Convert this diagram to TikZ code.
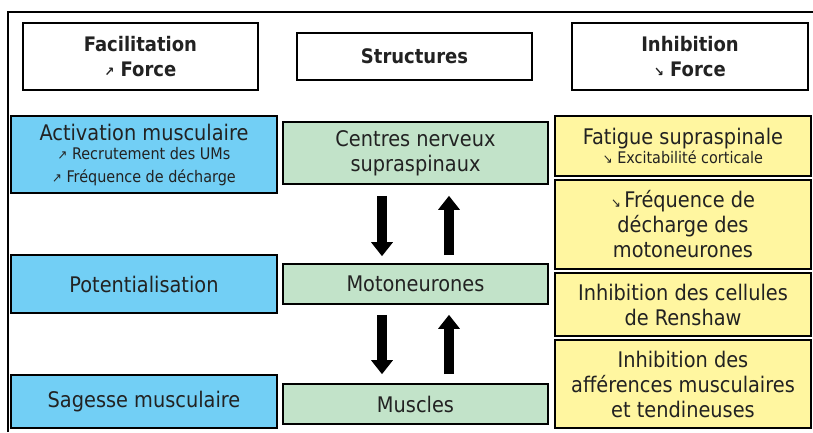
\documentclass[tikz,border=0pt]{standalone}
\usepackage{fontspec}
\setmainfont{DejaVu Sans Condensed}
\usetikzlibrary{arrows.meta}
\definecolor{bluefill}{RGB}{114,207,245}
\definecolor{greenfill}{RGB}{194,227,201}
\definecolor{yellowfill}{RGB}{255,246,160}
\definecolor{txt}{RGB}{34,34,34}
\tikzset{
  x=1pt,y=1pt,
  base/.style={draw=black,inner sep=0pt,align=center,text=txt,font=\fontsize{21.5}{25}\selectfont},
  headbox/.style={base,line width=2.4pt,fill=white,font=\bfseries\fontsize{20}{25}\selectfont},
  bluebox/.style={base,line width=1.6pt,fill=bluefill,minimum width=266pt},
  greenbox/.style={base,line width=1.6pt,fill=greenfill,minimum width=265pt},
  yellowbox/.style={base,line width=1.6pt,fill=yellowfill,minimum width=256pt},
  bigarrow/.style={line width=10pt,-{Triangle[width=21pt,length=14pt]}}
}
\newcommand{\smalltxt}{\fontsize{16}{19}\selectfont}
\newcommand{\up}{{\fontsize{13}{13}\selectfont↗}}
\newcommand{\dn}{{\fontsize{13}{13}\selectfont↘}}
\begin{document}
\begin{tikzpicture}
\useasboundingbox (0,0) rectangle (813,-432);
\fill[white] (0,0) rectangle (813,-432);
% outer frame
\draw[line width=1.2pt] (8,-432) -- (8,-12) -- (813,-12);
% headers
\node[headbox,minimum width=235pt,minimum height=67pt] (fac) at (140.5,-56.5) {Facilitation\\\up\ Force};
\node[headbox,minimum width=235pt,minimum height=47pt] (str) at (414.5,-56.5) {Structures};
\node[headbox,minimum width=236pt,minimum height=67pt] (inh) at (690,-56.5) {Inhibition\\\dn\ Force};
% facilitation column
\node[bluebox,minimum height=77pt] (act) at (144,-154.5) {Activation musculaire\\[-6pt]{\smalltxt\up\ Recrutement des UMs}\\[-2pt]{\smalltxt\up\ Fréquence de décharge}};
\node[bluebox,minimum height=58pt] (pot) at (144,-284) {Potentialisation};
\node[bluebox,minimum height=53pt] (sag) at (144,-401.5) {Sagesse musculaire};
% structures column
\node[greenbox,minimum height=62pt] (cns) at (415.5,-153) {Centres nerveux\\supraspinaux};
\node[greenbox,minimum height=40pt] (mot) at (415.5,-284) {Motoneurones};
\node[greenbox,minimum height=40pt] (mus) at (415.5,-404) {Muscles};
% inhibition column
\node[yellowbox,minimum height=60pt] (fat) at (683,-146) {Fatigue supraspinale\\[-6pt]{\smalltxt\dn\ Excitabilité corticale}};
\node[yellowbox,minimum height=89pt] (freq) at (683,-224.5) {\dn\,Fréquence de\\décharge des\\motoneurones};
\node[yellowbox,minimum height=63pt] (ren) at (683,-304.5) {Inhibition des cellules\\de Renshaw};
\node[yellowbox,minimum height=88pt] (aff) at (683,-384) {Inhibition des\\afférences musculaires\\et tendineuses};
% arrows
\draw[bigarrow,shorten <=11pt,shorten >=7pt] ([xshift=-33.5pt]cns.south) -- ([xshift=-33.5pt]mot.north);
\draw[bigarrow,shorten <=8pt,shorten >=11pt] ([xshift=33.5pt]mot.north) -- ([xshift=33.5pt]cns.south);
\draw[bigarrow,shorten <=10pt,shorten >=9pt] ([xshift=-33.5pt]mot.south) -- ([xshift=-33.5pt]mus.north);
\draw[bigarrow,shorten <=9pt,shorten >=10pt] ([xshift=33.5pt]mus.north) -- ([xshift=33.5pt]mot.south);
\end{tikzpicture}
\end{document}
